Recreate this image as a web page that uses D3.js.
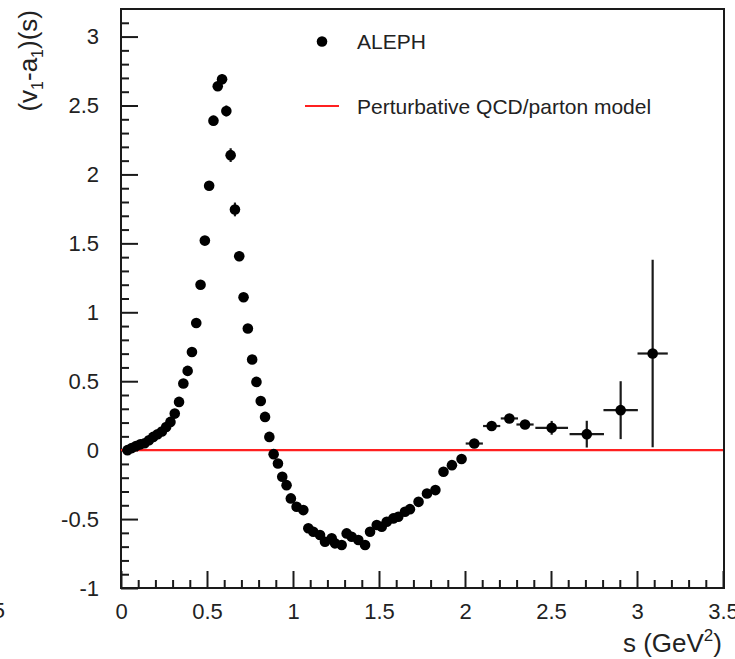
<!DOCTYPE html>
<html>
<head>
<meta charset="utf-8">
<script src="https://cdn.jsdelivr.net/npm/d3@7"></script>
<style>
  html, body { margin: 0; padding: 0; background: #fff; }
  svg { display: block; font-family: "Liberation Sans", Arial, Helvetica, sans-serif; }
</style>
</head>
<body>
<svg id="chart" width="735" height="659"></svg>
<script>
// ---- data ----
const sValues = [0.0375,0.0625,0.0875,0.1125,0.1375,0.1625,0.1875,0.2125,0.2375,0.2625,
  0.2875,0.3125,0.3375,0.3625,0.3875,0.4125,0.4375,0.4625,0.4875,0.5125,
  0.5375,0.5625,0.5875,0.6125,0.6375,0.6625,0.6875,0.7125,0.7375,0.7625,
  0.7875,0.8125,0.8375,0.8625,0.8875,0.9125,0.9375,0.9625,0.9875,1.021,
  1.060,1.089,1.118,1.157,1.186,1.225,1.244,1.283,1.312,1.341,
  1.380,1.419,1.448,1.487,1.516,1.545,1.583,1.612,1.651,1.680,
  1.730,1.779,1.828,1.875,1.924,1.980,2.054,2.155,2.258,2.349,
  2.504,2.708,2.905,3.091];
const vaValues = [0.0,0.015,0.03,0.042,0.05,0.072,0.096,0.115,0.135,0.168,
  0.205,0.265,0.35,0.483,0.575,0.712,0.922,1.2,1.52,1.918,
  2.39,2.64,2.69,2.46,2.14,1.746,1.406,1.109,0.882,0.657,
  0.495,0.357,0.241,0.096,-0.029,-0.097,-0.193,-0.254,-0.35,-0.411,
  -0.435,-0.567,-0.592,-0.616,-0.665,-0.640,-0.676,-0.688,-0.604,-0.628,
  -0.652,-0.688,-0.592,-0.543,-0.556,-0.519,-0.495,-0.483,-0.447,-0.428,
  -0.375,-0.314,-0.290,-0.157,-0.109,-0.064,0.048,0.175,0.230,0.186,
  0.162,0.116,0.290,0.701];
const sErr = [0,0,0,0,0,0,0,0,0,0, 0,0,0,0,0,0,0,0,0,0,
  0,0,0,0,0,0,0,0,0,0, 0,0,0,0,0,0,0,0,0,0,
  0,0,0,0,0,0,0,0,0,0, 0,0,0,0,0,0,0,0,0,0,
  0,0,0,0,0,0,0.05,0.05,0.05,0.05, 0.095,0.1,0.1,0.088];
const vaErr = [0,0,0,0,0,0,0,0,0,0, 0,0,0,0,0,0,0.02,0.03,0.03,0.03,
  0.035,0.035,0.035,0.04,0.05,0.05,0.035,0.03,0.02,0.02, 0,0,0,0,0,0,0,0,0,0,
  0,0,0,0,0,0,0,0,0,0, 0,0,0,0,0,0,0,0,0,0,
  0,0,0,0,0,0,0.02,0.03,0.03,0.03, 0.05,0.097,0.21,0.68];
const modelS = [0, 3.5];
const modelVA = [0, 0];
const xMajorTicks = [0, 0.5, 1, 1.5, 2, 2.5, 3, 3.5];
const yMajorTicks = [-1, -0.5, 0, 0.5, 1, 1.5, 2, 2.5, 3];
const legendLabels = ["ALEPH", "Perturbative QCD/parton model"];
const xTitle = "s (GeV", yTitle = "(v";

// ---- layout ----
const svg = d3.select("#chart");
const L = 121, R = 723, T = 9, B = 588;
const x = d3.scaleLinear().domain([0, 3.5]).range([L, R]);
const y = d3.scaleLinear().domain([-1, 3.2]).range([B, T]);
const fmt = d => String(d);
const ink = "#1a1a1a";

// minor ticks
const xMinor = d3.range(0, 3.5001, 0.1).map(v => +v.toFixed(2)).filter(v => !xMajorTicks.some(m => Math.abs(m - v) < 1e-6));
const yMinor = d3.range(-1, 3.2001, 0.1).map(v => +v.toFixed(2)).filter(v => !yMajorTicks.some(m => Math.abs(m - v) < 1e-6) && v < 3.19);

function styleAxis(g) {
  g.select(".domain").remove();
  g.selectAll(".tick line").attr("stroke", ink).attr("stroke-width", 2);
  g.selectAll(".tick text").attr("fill", "#222").style("font-size", "22px")
    .style("font-family", "'Liberation Sans', Arial, sans-serif");
}

svg.append("g").attr("transform", `translate(0,${B})`)
  .call(d3.axisBottom(x).tickValues(xMinor).tickSize(-8).tickFormat(""))
  .call(styleAxis);
svg.append("g").attr("transform", `translate(0,${B})`)
  .call(d3.axisBottom(x).tickValues(xMajorTicks).tickSize(-17).tickPadding(15).tickFormat(fmt))
  .call(styleAxis);
svg.append("g").attr("transform", `translate(${L},0)`)
  .call(d3.axisLeft(y).tickValues(yMinor).tickSize(-8).tickFormat(""))
  .call(styleAxis);
svg.append("g").attr("transform", `translate(${L},0)`)
  .call(d3.axisLeft(y).tickValues(yMajorTicks).tickSize(-17).tickPadding(22).tickFormat(fmt))
  .call(styleAxis);

// frame
svg.append("rect").attr("x", L).attr("y", T).attr("width", R - L + 1).attr("height", B - T)
  .attr("fill", "none").attr("stroke", ink).attr("stroke-width", 2);

// model line
svg.append("path")
  .datum(modelS.map((s, i) => [s, modelVA[i]]))
  .attr("d", d3.line().x(d => x(d[0])).y(d => y(d[1])))
  .attr("stroke", "#ff2020").attr("stroke-width", 2.2).attr("fill", "none");

// data
const pts = sValues.map((s, i) => ({ s, v: vaValues[i], es: sErr[i], ev: vaErr[i] }));
const gData = svg.append("g");
gData.selectAll("line.ex").data(pts.filter(d => d.es > 0)).join("line")
  .attr("x1", d => x(d.s - d.es)).attr("x2", d => x(d.s + d.es))
  .attr("y1", d => y(d.v)).attr("y2", d => y(d.v))
  .attr("stroke", ink).attr("stroke-width", 2.2);
gData.selectAll("line.ey").data(pts.filter(d => d.ev > 0)).join("line")
  .attr("x1", d => x(d.s)).attr("x2", d => x(d.s))
  .attr("y1", d => y(d.v - d.ev)).attr("y2", d => y(d.v + d.ev))
  .attr("stroke", ink).attr("stroke-width", 2.2);
gData.selectAll("circle").data(pts).join("circle")
  .attr("cx", d => x(d.s)).attr("cy", d => y(d.v)).attr("r", 5.3)
  .attr("fill", "#000");

// legend
const lg = svg.append("g").style("font-size", "21px").attr("fill", "#222");
lg.append("circle").attr("cx", 322).attr("cy", 41.5).attr("r", 5.3).attr("fill", "#000");
lg.append("text").attr("x", 357).attr("y", 41.5).attr("dy", "0.36em").text(legendLabels[0]);
lg.append("line").attr("x1", 305).attr("x2", 339).attr("y1", 106).attr("y2", 106)
  .attr("stroke", "#ff2020").attr("stroke-width", 2.2);
lg.append("text").attr("x", 357).attr("y", 106).attr("dy", "0.36em").text(legendLabels[1]);

// axis titles
const xt = svg.append("text").attr("x", 722).attr("y", 652).attr("text-anchor", "end")
  .attr("fill", "#222").style("font-size", "26px");
xt.append("tspan").text(xTitle);
xt.append("tspan").attr("dy", -11).style("font-size", "17px").text("2");
xt.append("tspan").attr("dy", 11).text(")");

const yt = svg.append("text").attr("transform", "translate(37,10) rotate(-90)")
  .attr("text-anchor", "end").attr("fill", "#222").style("font-size", "26px");
yt.append("tspan").text(yTitle);
yt.append("tspan").attr("dy", 6).style("font-size", "16px").text("1");
yt.append("tspan").attr("dy", -6).text("-a");
yt.append("tspan").attr("dy", 6).style("font-size", "16px").text("1");
yt.append("tspan").attr("dy", -6).text(")(s)");

// clipped label from neighbouring panel at far left
svg.append("text").attr("x", 5).attr("y", 610).attr("dy", "0.36em").attr("text-anchor", "end")
  .attr("fill", "#222").style("font-size", "22px").text("3.5");
</script>
</body>
</html>
